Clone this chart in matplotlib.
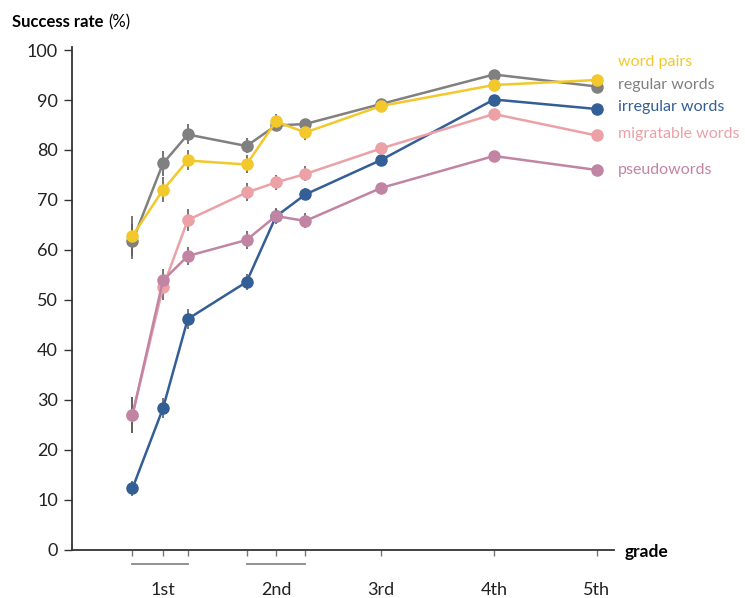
import numpy as np
import matplotlib
matplotlib.use("Agg")
import matplotlib.pyplot as plt

plt.rcParams["font.family"] = ["Lato", "DejaVu Sans"]

# time points (in grade units) and tick labels
t = np.array([0.80, 1.07, 1.29, 1.81, 2.07, 2.33, 3.0, 4.0, 4.91])
tick_labels = ["", "1st", "", "", "2nd", "", "3rd", "4th", "5th"]

series_names = ["word pairs", "regular words", "irregular words", "migratable words", "pseudowords"]
colors = ["#F2C82A", "#808080", "#335E96", "#EBA1A6", "#C284A3"]

word_pairs = [62.8, 72.0, 77.9, 77.1, 85.7, 83.5, 88.8, 93.0, 94.0]
regular = [61.7, 77.3, 83.1, 80.8, 84.9, 85.2, 89.2, 95.1, 92.7]
irregular = [12.3, 28.3, 46.2, 53.6, 66.7, 71.1, 78.0, 90.1, 88.2]
migratable = [27.0, 52.5, 66.0, 71.5, 73.5, 75.2, 80.3, 87.2, 82.9]
pseudo = [26.9, 53.9, 58.8, 62.0, 66.8, 65.8, 72.4, 78.8, 76.0]

err_word_pairs = [4.0, 2.5, 2.0, 1.8, 1.5, 1.5, 0.8, 0.6, 0.6]
err_regular = [3.5, 2.5, 2.0, 1.5, 1.0, 1.0, 0.8, 0.5, 0.5]
err_irregular = [1.5, 2.0, 2.0, 1.6, 1.5, 1.2, 0.8, 0.6, 0.6]
err_migratable = [3.6, 2.5, 2.2, 1.8, 1.5, 1.5, 0.8, 0.6, 0.6]
err_pseudo = [3.6, 2.2, 1.8, 1.8, 1.5, 1.5, 0.9, 0.7, 0.7]

label_y = [97.6, 93.0, 88.6, 83.2, 76.0]

values = [word_pairs, regular, irregular, migratable, pseudo]
errors = [err_word_pairs, err_regular, err_irregular, err_migratable, err_pseudo]

fig = plt.figure(figsize=(7.45, 5.98), dpi=100)
ax = fig.add_axes([0.0966, 0.0803, 0.7275, 0.8411])

# stacking order, bottom to top
order = [2, 3, 4, 1, 0]
for i in order:
    ax.errorbar(t, values[i], yerr=errors[i], fmt="none", ecolor="#5f5f5f",
                elinewidth=1.2, capsize=0, zorder=2)
for z, i in enumerate(order):
    ax.plot(t, values[i], "-o", color=colors[i], lw=1.8, ms=8, zorder=3 + z)

for name, c, yl in zip(series_names, colors, label_y):
    ax.text(5.10, yl, name, color=c, fontsize=11.5, va="center", ha="left", clip_on=False)

ax.set_xlim(0.265, 5.062)
ax.set_ylim(0, 100.6)
ax.set_yticks(range(0, 101, 10))
ax.set_xticks(t)
ax.set_xticklabels(tick_labels)

for s in ["top", "right"]:
    ax.spines[s].set_visible(False)
for s in ["left", "bottom"]:
    ax.spines[s].set_color("#333333")
    ax.spines[s].set_linewidth(1.3)

ax.tick_params(axis="y", labelsize=13, length=6, width=1, color="#333333", labelcolor="#222222", pad=4)
ax.tick_params(axis="x", labelsize=13, length=4, width=1, color="#777777", labelcolor="#222222", pad=19)

# group brackets under 1st and 2nd grade
trans = ax.get_xaxis_transform()
ax.plot([t[0], t[2]], [-0.028, -0.028], color="#888888", lw=1.3, transform=trans, clip_on=False)
ax.plot([t[3], t[5]], [-0.028, -0.028], color="#888888", lw=1.3, transform=trans, clip_on=False)

title = fig.text(0.016, 0.963, "Success rate", fontsize=12, fontweight="bold", va="center", ha="left")
fig.canvas.draw()
bb = title.get_window_extent().transformed(fig.transFigure.inverted())
fig.text(bb.x1 + 0.006, 0.963, "(%)", fontsize=12, va="center", ha="left")
fig.text(0.838, 0.077, "grade", fontsize=12.5, fontweight="bold", va="center", ha="left")

fig.savefig("out.png", dpi=100)
